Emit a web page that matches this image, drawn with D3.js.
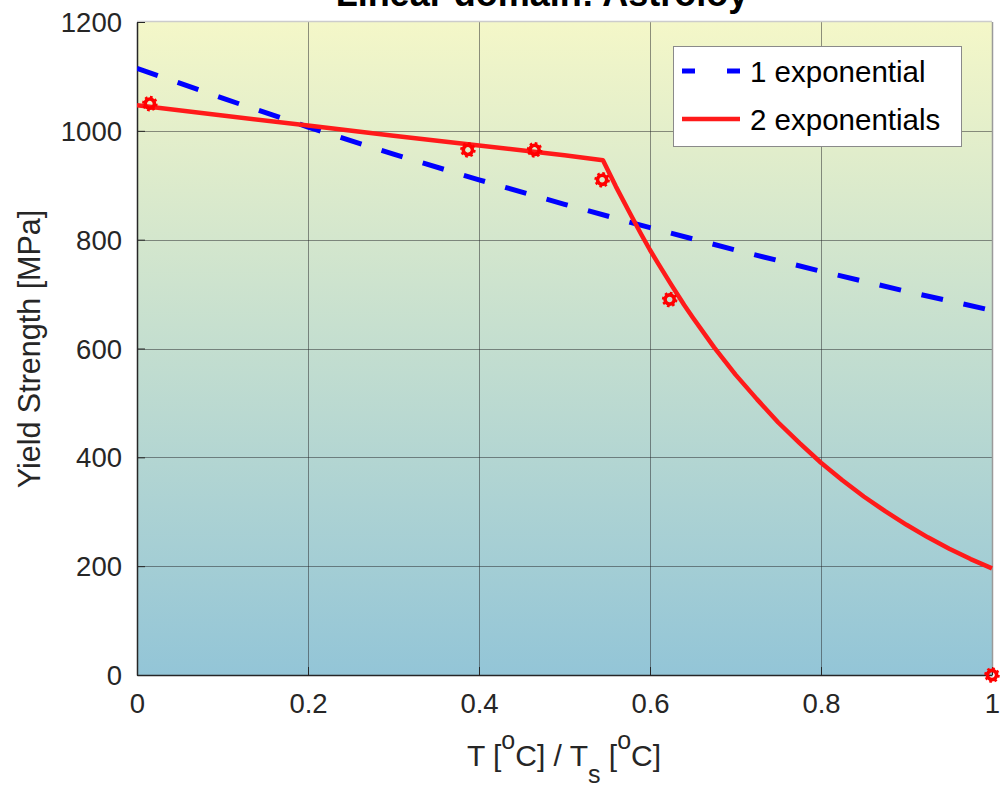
<!DOCTYPE html>
<html>
<head>
<meta charset="utf-8">
<script src="https://cdn.jsdelivr.net/npm/d3@7"></script>
<style>
  html, body { margin: 0; padding: 0; background: #fff; }
  svg { display: block; font-family: "Liberation Sans", Arial, Helvetica, sans-serif; }
</style>
</head>
<body>
<svg id="chart" width="1000" height="786"></svg>
<script>
// Measured yield strength of Astroloy vs homologous temperature
const pointT = [0.015, 0.387, 0.465, 0.544, 0.623, 1.0];
const pointY = [1050, 965, 965, 910, 690, 0];

// Single-exponential fit
const fit1T = [0, 0.1, 0.2, 0.3, 0.4, 0.5, 0.6, 0.7, 0.8, 0.9, 1.0];
const fit1Y = [1115, 1060, 1007, 957, 910, 865, 822, 781, 742, 705, 670];

// Two-exponential fit (break near T/Ts = 0.545)
const fit2T = [0, 0.1, 0.2, 0.3, 0.4, 0.5, 0.545, 0.56, 0.575, 0.59, 0.6, 0.61, 0.625, 0.64, 0.65,
               0.675, 0.7, 0.725, 0.75, 0.775, 0.8, 0.825, 0.85, 0.875, 0.9, 0.925, 0.95, 0.975, 1.0];
const fit2Y = [1047, 1028, 1010, 991, 973, 955, 946, 898, 853, 809, 781, 755, 717, 680, 657,
               602, 552, 507, 464, 426, 390, 358, 328, 301, 276, 253, 232, 213, 196];

const xTicks = [0, 0.2, 0.4, 0.6, 0.8, 1];
const yTicks = [0, 200, 400, 600, 800, 1000, 1200];
const legendLabels = ["1 exponential", "2 exponentials"];

const svg = d3.select("#chart");
const m = { left: 137, right: 992, top: 22, bottom: 675 };

const x = d3.scaleLinear().domain([0, 1]).range([m.left, m.right]);
const y = d3.scaleLinear().domain([0, 1200]).range([m.bottom, m.top]);

// Background gradient
const defs = svg.append("defs");
const grad = defs.append("linearGradient").attr("id", "bg")
  .attr("x1", 0).attr("y1", 0).attr("x2", 0).attr("y2", 1);
grad.append("stop").attr("offset", "0%").attr("stop-color", "#f4f7c8");
grad.append("stop").attr("offset", "100%").attr("stop-color", "#93c5d7");
defs.append("clipPath").attr("id", "plotClip").append("rect")
  .attr("x", m.left).attr("y", m.top - 4)
  .attr("width", m.right - m.left + 4).attr("height", m.bottom - m.top + 8);

svg.append("rect")
  .attr("x", m.left).attr("y", m.top)
  .attr("width", m.right - m.left).attr("height", m.bottom - m.top)
  .attr("fill", "url(#bg)");

// Grid
const grid = svg.append("g").attr("stroke", "#26262a").attr("stroke-opacity", 0.5).attr("stroke-width", 1);
grid.selectAll(".gx").data(xTicks.slice(1, -1)).join("line")
  .attr("x1", d => Math.round(x(d)) + 0.5).attr("x2", d => Math.round(x(d)) + 0.5)
  .attr("y1", m.top).attr("y2", m.bottom);
grid.selectAll(".gy").data(yTicks.slice(1, -1)).join("line")
  .attr("y1", d => Math.round(y(d)) + 0.5).attr("y2", d => Math.round(y(d)) + 0.5)
  .attr("x1", m.left).attr("x2", m.right);

// Box: top and right edges light
svg.append("line").attr("x1", m.left).attr("x2", m.right).attr("y1", m.top - 0.5).attr("y2", m.top - 0.5)
  .attr("stroke", "#cccccc").attr("stroke-width", 1.5);
svg.append("line").attr("x1", m.right + 0.5).attr("x2", m.right + 0.5).attr("y1", m.top).attr("y2", m.bottom)
  .attr("stroke", "#9a9a9a").attr("stroke-width", 1.5);

// Axes
const xAxis = d3.axisBottom(x).tickValues(xTicks).tickSizeInner(-8).tickSizeOuter(0)
  .tickPadding(18).tickFormat(d3.format("~g"));
const yAxis = d3.axisLeft(y).tickValues(yTicks).tickSizeInner(-8).tickSizeOuter(0)
  .tickPadding(15).tickFormat(d3.format("d"));

const gx = svg.append("g").attr("transform", `translate(0,${m.bottom})`).call(xAxis);
const gy = svg.append("g").attr("transform", `translate(${m.left},0)`).call(yAxis);
[gx, gy].forEach(g => {
  g.select(".domain").attr("stroke", "#262626").attr("stroke-width", 1.5);
  g.selectAll(".tick line").attr("stroke", "#262626").attr("stroke-width", 1);
  g.selectAll(".tick text").attr("fill", "#262626").style("font-size", "27.5px")
    .style("font-family", "Liberation Sans, Arial, sans-serif");
});
gx.selectAll(".tick text").attr("dy", "0.71em");
gy.selectAll(".tick text").attr("dy", "0.35em");

// Lines
const plot = svg.append("g").attr("clip-path", "url(#plotClip)");
const line = d3.line().x(d => x(d[0])).y(d => y(d[1]));
const fit1 = fit1T.map((t, i) => [t, fit1Y[i]]);
const fit2 = fit2T.map((t, i) => [t, fit2Y[i]]);
const pts = pointT.map((t, i) => [t, pointY[i]]);

plot.append("path").datum(fit1).attr("d", line)
  .attr("fill", "none").attr("stroke", "#0000ff").attr("stroke-width", 5)
  .attr("stroke-dasharray", "22,21");
plot.append("path").datum(fit2).attr("d", line)
  .attr("fill", "none").attr("stroke", "#ff1a1a").attr("stroke-width", 4.5)
  .attr("stroke-linejoin", "round");

// Data markers (circle with toothed rim)
const mk = svg.append("g");
const mg = mk.selectAll("g").data(pts).join("g")
  .attr("transform", d => `translate(${x(d[0])},${y(d[1])})`);
mg.append("circle").attr("r", 4.6).attr("fill", "none").attr("stroke", "#ff0000").attr("stroke-width", 3.6);
mg.append("circle").attr("r", 6.6).attr("fill", "none").attr("stroke", "#ff0000").attr("stroke-width", 2.4)
  .attr("stroke-dasharray", "2.6,2.58");

// Title (runs off the top edge of the canvas)
svg.append("text").attr("x", 542).attr("y", 6).attr("text-anchor", "middle")
  .style("font-size", "36px").style("font-weight", "bold").attr("fill", "#000")
  .text("Linear domain: Astroloy");

// Axis labels
const xl = svg.append("text").attr("x", 564).attr("y", 766).attr("text-anchor", "middle")
  .style("font-size", "30px").attr("fill", "#262626");
xl.append("tspan").text("T [");
xl.append("tspan").attr("dy", -17).style("font-size", "25px").text("o");
xl.append("tspan").attr("dy", 17).text("C] / T");
xl.append("tspan").attr("dy", 17).style("font-size", "25px").text("s");
xl.append("tspan").attr("dy", -17).text(" [");
xl.append("tspan").attr("dy", -17).style("font-size", "25px").text("o");
xl.append("tspan").attr("dy", 17).text("C]");

svg.append("text").attr("transform", "translate(40,349) rotate(-90)").attr("text-anchor", "middle")
  .style("font-size", "30.5px").attr("fill", "#262626").text("Yield Strength [MPa]");

// Legend
const lg = svg.append("g");
lg.append("rect").attr("x", 673.5).attr("y", 46.5).attr("width", 288).attr("height", 100)
  .attr("fill", "#fff").attr("stroke", "#8a8a8a").attr("stroke-width", 1);
const legY = [71, 119];
lg.append("line").attr("x1", 682).attr("x2", 740).attr("y1", legY[0]).attr("y2", legY[0])
  .attr("stroke", "#0000ff").attr("stroke-width", 5).attr("stroke-dasharray", "13,32");
lg.append("line").attr("x1", 682).attr("x2", 740).attr("y1", legY[1]).attr("y2", legY[1])
  .attr("stroke", "#ff1a1a").attr("stroke-width", 4.5);
lg.selectAll("text").data(legendLabels).join("text")
  .attr("x", 750).attr("y", (d, i) => legY[i]).attr("dy", "0.36em")
  .style("font-size", "29.5px").attr("fill", "#000").text(d => d);
</script>
</body>
</html>
